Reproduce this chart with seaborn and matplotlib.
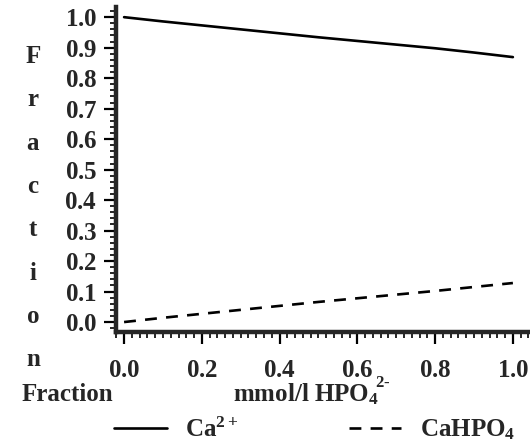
import matplotlib
matplotlib.use("Agg")
import matplotlib.pyplot as plt
import seaborn as sns
import pandas as pd
import numpy as np
from matplotlib.ticker import MultipleLocator

# Data
hpo4_mmol = [0.0, 0.1, 0.2, 0.3, 0.4, 0.5, 0.6, 0.7, 0.8, 0.9, 1.0]
ca_free = [1.0, 0.986, 0.973, 0.960, 0.947, 0.934, 0.922, 0.910, 0.898, 0.884, 0.869]
cahpo4 = [0.0, 0.014, 0.027, 0.040, 0.053, 0.066, 0.078, 0.090, 0.102, 0.115, 0.128]
series_labels = ["Ca$^{2+}$", "CaHPO$_4$"]
x_ticks = [0.0, 0.2, 0.4, 0.6, 0.8, 1.0]
y_ticks = [0.0, 0.1, 0.2, 0.3, 0.4, 0.5, 0.6, 0.7, 0.8, 0.9, 1.0]

sns.set_style("ticks")
plt.rcParams["font.family"] = ["Liberation Serif", "DejaVu Serif"]
plt.rcParams["font.weight"] = "bold"
plt.rcParams["mathtext.fontset"] = "custom"
plt.rcParams["mathtext.rm"] = "Liberation Serif:bold"
plt.rcParams["mathtext.bf"] = "Liberation Serif:bold"
plt.rcParams["mathtext.it"] = "Liberation Serif:bold"
plt.rcParams["mathtext.default"] = "rm"

FS = 18

df = pd.DataFrame({
    "x": hpo4_mmol * 2,
    "y": ca_free + cahpo4,
    "species": [series_labels[0]] * len(hpo4_mmol) + [series_labels[1]] * len(hpo4_mmol),
})

fig = plt.figure(figsize=(5.30, 4.44), dpi=100)
ax = fig.add_axes([0.219, 0.252, 0.781, 0.732])

sns.lineplot(data=df, x="x", y="y", style="species", color="black",
             dashes={series_labels[0]: "", series_labels[1]: (4.5, 3.5)},
             linewidth=1.9, ax=ax, legend=False)

ax.set_xlim(-0.0206, 1.044)
ax.set_ylim(-0.033, 1.033)
ax.set_xticks(x_ticks)
ax.set_yticks(y_ticks)
ax.set_xticklabels([f"${v:.1f}$" for v in x_ticks])
ax.set_yticklabels([f"${v:.1f}$" for v in y_ticks])
ax.xaxis.set_minor_locator(MultipleLocator(0.02))
ax.yaxis.set_minor_locator(MultipleLocator(0.02))
for s in ["top", "right"]:
    ax.spines[s].set_visible(False)
for s in ["left", "bottom"]:
    ax.spines[s].set_linewidth(3.2)
ax.tick_params(axis="both", which="major", length=8.5, width=1.6, labelsize=FS, direction="out", color="black")
ax.tick_params(axis="both", which="minor", length=4.5, width=1.2, direction="out", color="black")
ax.tick_params(axis="y", which="major", pad=5)
ax.tick_params(axis="x", which="major", pad=11)
for lab in ax.get_xticklabels() + ax.get_yticklabels():
    lab.set_fontweight("bold")
ax.set_xlabel("")
ax.set_ylabel("")

# Vertical stacked y label
fig.text(0.062, 0.531, "\n".join("Fraction"), ha="center", va="center",
         fontsize=FS, fontweight="bold", linespacing=2.13)

# Bottom texts
fig.text(0.040, 0.096, "Fraction", ha="left", va="baseline", fontsize=FS, fontweight="bold")
xl = fig.text(0.440, 0.096, "mmol/l HPO$_4$", ha="left", va="baseline",
              fontsize=FS, fontweight="bold")
fig.canvas.draw()
bb = xl.get_window_extent(renderer=fig.canvas.get_renderer())
x_sup = (bb.x1 - 4) / fig.bbox.width
fig.text(x_sup, 0.129, "$2\u2010$", ha="left", va="baseline", fontsize=12, fontweight="bold")

handles = ax.get_lines()[:2]
fig.legend(handles, series_labels, ncol=2, loc="center", bbox_to_anchor=(0.594, 0.032),
           frameon=False, fontsize=FS, handlelength=2.1, handletextpad=0.75,
           columnspacing=4.4, borderpad=0, borderaxespad=0)

fig.savefig("out.png", dpi=100)
